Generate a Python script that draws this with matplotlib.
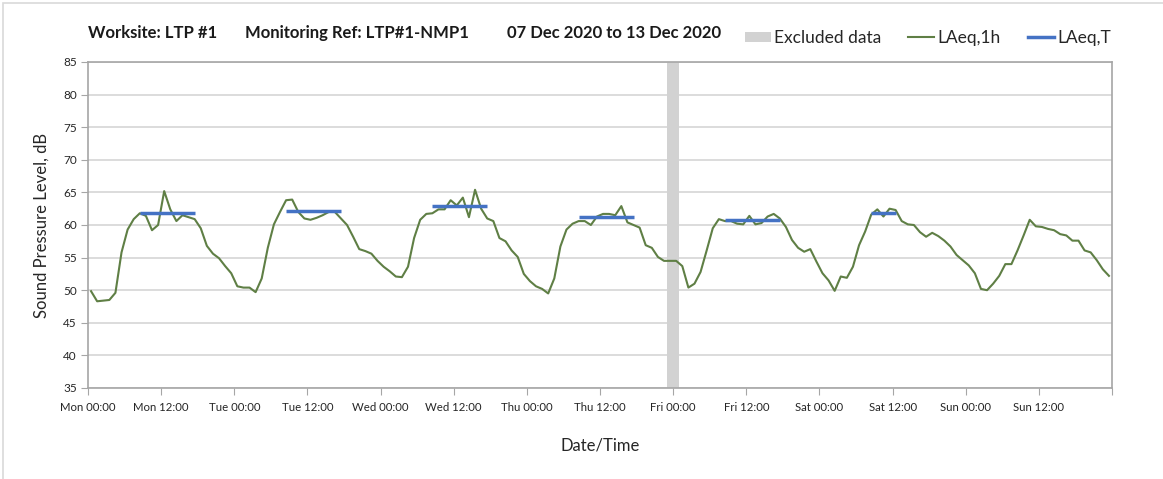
import matplotlib
matplotlib.use("Agg")
import matplotlib.pyplot as plt
from matplotlib.lines import Line2D
from matplotlib.patches import Patch, Rectangle
import numpy as np

plt.rcParams['font.family'] = ['Lato', 'DejaVu Sans']

# ---- data ----
tick_labels = ["Mon 00:00", "Mon 12:00", "Tue 00:00", "Tue 12:00", "Wed 00:00",
               "Wed 12:00", "Thu 00:00", "Thu 12:00", "Fri 00:00", "Fri 12:00",
               "Sat 00:00", "Sat 12:00", "Sun 00:00", "Sun 12:00", ""]

laeq_1h = [
    49.85, 48.3, 48.4, 48.5, 49.6, 55.8, 59.3, 60.9, 61.8, 61.4, 59.2, 60.0,
    65.2, 62.4, 60.6, 61.5, 61.2, 60.9, 59.5, 56.8, 55.6, 54.9, 53.7, 52.6,
    50.6, 50.4, 50.4, 49.7, 51.8, 56.5, 60.1, 62.0, 63.8, 63.9, 62.0, 61.0,
    60.8, 61.1, 61.5, 62.0, 62.0, 61.0, 60.0, 58.2, 56.3, 56.0, 55.6, 54.5,
    53.6, 52.9, 52.1, 52.0, 53.6, 58.0, 60.8, 61.7, 61.8, 62.4, 62.4, 63.8,
    63.0, 64.2, 61.2, 65.4, 62.5, 61.0, 60.6, 58.0, 57.5, 56.1, 55.1, 52.5,
    51.4, 50.6, 50.2, 49.5, 51.8, 56.7, 59.3, 60.2, 60.6, 60.6, 60.0, 61.3,
    61.7, 61.7, 61.5, 62.9, 60.4, 60.0, 59.6, 56.9, 56.5, 55.1, 54.5, 54.5,
    54.5, 53.7, 50.4, 51.0, 52.8, 56.1, 59.5, 60.9, 60.6, 60.6, 60.2, 60.1,
    61.4, 60.1, 60.3, 61.3, 61.7, 61.0, 59.7, 57.7, 56.5, 55.9, 56.3, 54.4,
    52.6, 51.5, 49.9, 52.1, 51.9, 53.6, 56.9, 59.0, 61.6, 62.4, 61.3, 62.5,
    62.3, 60.6, 60.1, 60.0, 58.9, 58.2, 58.8, 58.3, 57.6, 56.7, 55.4, 54.6,
    53.8, 52.6, 50.2, 50.0, 51.0, 52.2, 54.0, 54.0, 56.1, 58.4, 60.8, 59.8,
    59.7, 59.4, 59.2, 58.6, 58.4, 57.6, 57.6, 56.1, 55.8, 54.6, 53.2, 52.2,
]

# LAeq,T periods (first and last hourly index) and values
period_start = [8, 32, 56, 80, 104, 128]
period_end = [17, 41, 65, 89, 113, 132]
laeq_t = [61.8, 62.1, 62.9, 61.2, 60.75, 61.9]

# Excluded data (hour range)
excluded_start = [95]
excluded_end = [97]

title_parts = ['Worksite: LTP #1', 'Monitoring Ref: LTP#1-NMP1', '07 Dec 2020 to 13 Dec 2020']

GREEN = '#5f7f45'
BLUE = '#4472C4'
GREYBAND = '#d2d2d2'
GRID = '#d9d9d9'
SPINE = '#a6a6a6'

fig = plt.figure(figsize=(11.63, 4.79), dpi=100)
ax = fig.add_axes([88/1163, 1-388/479, (1112-88)/1163, (388-62)/479])

# figure border
fig.add_artist(Rectangle((3/1163, -0.01), 1.0, 1 - 3/479 + 0.01, transform=fig.transFigure,
                         fill=False, edgecolor='#d9d9d9', linewidth=1.2))

for s, e in zip(excluded_start, excluded_end):
    ax.axvspan(s, e, color=GREYBAND, lw=0, zorder=1)

hours = np.arange(len(laeq_1h)) + 0.5
ax.plot(hours, laeq_1h, color=GREEN, lw=1.5, zorder=3)

for s, e, v in zip(period_start, period_end, laeq_t):
    ax.plot([s + 0.5, e + 0.5], [v, v], color=BLUE, lw=2.5, zorder=4,
            solid_capstyle='butt')

ax.set_xlim(0, 168)
ax.set_ylim(35, 85)
ax.set_xticks(np.arange(0, 169, 12))
ax.set_xticklabels(tick_labels)
ax.set_xticks(np.arange(0, 169, 24), minor=True)
ax.set_yticks(np.arange(35, 86, 5))

ax.grid(False)
ax.grid(True, which='minor', axis='x', color=GRID, lw=1.3, zorder=0)
ax.grid(True, which='major', axis='y', color=GRID, lw=1.3, zorder=0)
ax.set_axisbelow(True)

for sp in ax.spines.values():
    sp.set_color(SPINE)
    sp.set_linewidth(1.2)

ax.tick_params(axis='x', which='major', length=5, color=SPINE, labelsize=8.2,
               labelcolor='#262626', pad=5)
ax.tick_params(axis='x', which='minor', length=0)
ax.tick_params(axis='y', length=5, color=SPINE, labelsize=8.5,
               labelcolor='#262626', pad=3)

ax.set_ylabel('Sound Pressure Level, dB', fontsize=12, color='#262626', labelpad=10)
ax.set_xlabel('Date/Time', fontsize=12, color='#262626', labelpad=18)

title_x = [88, 245, 507]
for tx, tt in zip(title_x, title_parts):
    fig.text(tx/1163, 1-33/479, tt, fontsize=12, fontweight='bold',
             color='#1a1a1a', va='center', ha='left')

handles = [Patch(facecolor=GREYBAND, edgecolor='none'),
           Line2D([0], [0], color=GREEN, lw=1.5),
           Line2D([0], [0], color=BLUE, lw=2.5)]
labels = ['Excluded data', 'LAeq,1h', 'LAeq,T']
fig.legend(handles, labels, loc='center left', bbox_to_anchor=(729/1163, 1-38/479),
           ncol=3, frameon=False, fontsize=12.5, handlelength=1.5, handleheight=0.55,
           handletextpad=0.2, columnspacing=1.55, labelcolor='#262626')

fig.savefig('out.png', dpi=100)
